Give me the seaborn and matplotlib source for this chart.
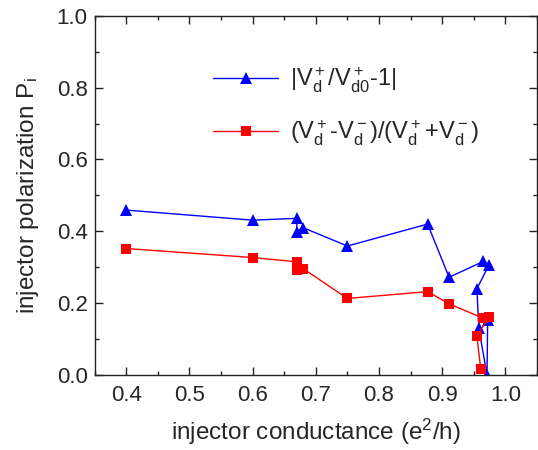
import matplotlib
matplotlib.use("Agg")
import matplotlib.pyplot as plt
import seaborn as sns
from matplotlib.ticker import MultipleLocator

# Data
g_blue = [0.40, 0.60, 0.67, 0.67, 0.68, 0.75, 0.877, 0.911, 0.965, 0.974, 0.955, 0.958, 0.971, 0.972]
p_blue = [0.459, 0.431, 0.436, 0.399, 0.410, 0.359, 0.420, 0.272, 0.316, 0.306, 0.240, 0.130, 0.000, 0.152]
g_red = [0.40, 0.60, 0.67, 0.67, 0.68, 0.75, 0.877, 0.911, 0.965, 0.974, 0.955, 0.961]
p_red = [0.352, 0.327, 0.315, 0.292, 0.296, 0.213, 0.232, 0.198, 0.158, 0.162, 0.108, 0.018]

label_blue = r'$\mathregular{|V_d^+/V_{d0}^+}$-$\mathregular{1|}$'
label_red = r'$\mathregular{(V_d^+}$-$\mathregular{V_d^-)/(V_d^+ \!+\! V_d^-)}$'

sns.set_style("ticks")
plt.rcParams['font.family'] = ['Liberation Sans', 'DejaVu Sans']
plt.rcParams['mathtext.fontset'] = 'custom'
plt.rcParams['mathtext.rm'] = 'Liberation Sans'
plt.rcParams['mathtext.it'] = 'Liberation Sans'

fig = plt.figure(figsize=(5.38, 4.5), dpi=100)
ax = fig.add_axes([0.176, 0.1667, 0.822, 0.7983])

sns.lineplot(x=g_blue, y=p_blue, sort=False, estimator=None, ax=ax,
             color='#0000ff', marker='^', markersize=9, markeredgewidth=0,
             linewidth=1, label=label_blue)
sns.lineplot(x=g_red, y=p_red, sort=False, estimator=None, ax=ax,
             color='#ff0000', marker='s', markersize=7, markeredgewidth=0,
             linewidth=1, label=label_red)

ax.set_xlim(0.35, 1.05)
ax.set_ylim(0.0, 1.0)
ax.xaxis.set_minor_locator(MultipleLocator(0.05))
ax.yaxis.set_minor_locator(MultipleLocator(0.1))
ax.set_xticks([0.4, 0.5, 0.6, 0.7, 0.8, 0.9, 1.0])
ax.set_xticklabels(['0.4', '0.5', '0.6', '0.7', '0.8', '0.9', '1.0'])
ax.set_yticks([0.0, 0.2, 0.4, 0.6, 0.8, 1.0])
ax.set_yticklabels(['0.0', '0.2', '0.4', '0.6', '0.8', '1.0'])

ax.tick_params(which='both', direction='in', top=True, right=True, labelsize=16, width=1, color='#222222')
ax.tick_params(which='major', length=6)
ax.tick_params(which='minor', length=3)
ax.tick_params(axis='x', which='major', pad=7)
ax.tick_params(axis='y', which='major', pad=5)
for s in ax.spines.values():
    s.set_linewidth(1)
    s.set_color('#222222')

ax.set_xlabel(r'injector conductance (e$^\mathregular{2}$/h)', fontsize=17.5, labelpad=8)
ax.set_ylabel(r'injector polarization P$_\mathregular{i}$', fontsize=17.5, labelpad=11)

ax.legend(loc='upper left', bbox_to_anchor=(0.22, 0.92), frameon=False,
          fontsize=17, handlelength=2.75, labelspacing=1.0, handletextpad=0.5)

fig.savefig("out.png", dpi=100)
